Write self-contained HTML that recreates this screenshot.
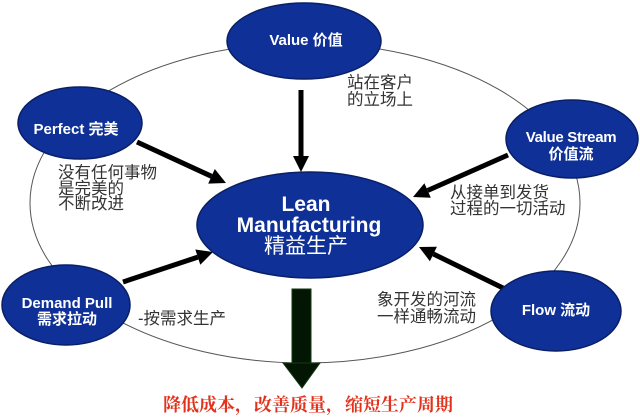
<!DOCTYPE html>
<html><head><meta charset="utf-8">
<style>
html,body{margin:0;padding:0;background:#fff;}
svg{display:block;}
.en{font-family:"Liberation Sans","Noto Sans CJK SC",sans-serif;font-weight:bold;fill:#fff;}
.g{font-family:"Liberation Sans","Noto Sans CJK SC",sans-serif;font-size:16.5px;fill:#333;}
.r{font-family:"Liberation Serif","Noto Serif CJK SC",serif;font-size:18px;font-weight:bold;fill:#e3321c;}
</style></head>
<body>
<svg width="640" height="419" viewBox="0 0 640 419" xmlns="http://www.w3.org/2000/svg">
<rect width="640" height="419" fill="#fff"/>
<!-- background ellipse -->
<ellipse cx="305" cy="203" rx="275" ry="160" fill="none" stroke="#555" stroke-width="1"/>

<!-- bottom arrow -->
<rect x="292" y="289" width="19" height="76" fill="#031603" stroke="#123a12" stroke-width="1"/>
<polygon points="283,363 320,363 302,388" fill="#031603" stroke="#123a12" stroke-width="1"/>

<!-- arrows -->
<g stroke="#000" stroke-width="5" fill="none">
<line x1="301" y1="90" x2="301" y2="158"/>
<line x1="137" y1="142" x2="211.5" y2="176.3"/>
<line x1="508" y1="155" x2="427.6" y2="190.5"/>
<line x1="123" y1="282" x2="197.8" y2="257.1"/>
<line x1="503" y1="288" x2="433.4" y2="254"/>
</g>
<g fill="#000">
<polygon points="293,156 309,156 301,172"/>
<polygon points="208.2,183.6 214.8,169.0 226,183"/>
<polygon points="424.4,183.2 430.8,197.8 413,197"/>
<polygon points="200.3,264.7 195.3,249.5 213,252"/>
<polygon points="436.9,246.8 429.9,261.2 419,247"/>
</g>

<!-- nodes -->
<g fill="#0f3096" stroke="#0a1f66" stroke-width="1.5">
<ellipse cx="304" cy="41" rx="77" ry="38"/>
<ellipse cx="80" cy="123" rx="62" ry="36"/>
<ellipse cx="572" cy="139" rx="66" ry="39"/>
<ellipse cx="66" cy="305" rx="64" ry="40"/>
<ellipse cx="556" cy="311" rx="65" ry="40"/>
<ellipse cx="310" cy="225" rx="113" ry="53"/>
</g>

<!-- node labels -->
<text class="en" x="306" y="45" font-size="15" text-anchor="middle">Value 价值</text>
<text class="en" x="76" y="134" font-size="15" text-anchor="middle">Perfect 完美</text>
<text class="en" x="571" y="142" font-size="15" text-anchor="middle" letter-spacing="-0.3">Value Stream</text>
<text class="en" x="571" y="159" font-size="15" text-anchor="middle">价值流</text>
<text class="en" x="67" y="308" font-size="15" text-anchor="middle">Demand Pull</text>
<text class="en" x="67" y="324" font-size="15" text-anchor="middle">需求拉动</text>
<text class="en" x="556" y="315" font-size="15" text-anchor="middle">Flow 流动</text>
<text class="en" x="306" y="211" font-size="21" text-anchor="middle">Lean</text>
<text class="en" x="309" y="232" font-size="21" text-anchor="middle">Manufacturing</text>
<text class="en" x="306" y="253" font-size="21" text-anchor="middle" style="font-weight:normal">精益生产</text>

<!-- annotations -->
<text class="g" x="347" y="88">站在客户</text>
<text class="g" x="347" y="105">的立场上</text>
<text class="g" x="58" y="178">没有任何事物</text>
<text class="g" x="58" y="194">是完美的</text>
<text class="g" x="58" y="209">不断改进</text>
<text class="g" x="450" y="198">从接单到发货</text>
<text class="g" x="450" y="214">过程的一切活动</text>
<text class="g" x="138" y="324">-按需求生产</text>
<text class="g" x="377" y="305">象开发的河流</text>
<text class="g" x="377" y="322">一样通畅流动</text>

<!-- bottom red text -->
<text class="r" x="163" y="411">降低成本，</text>
<text class="r" x="254" y="411">改善质量，</text>
<text class="r" x="345" y="411">缩短生产周期</text>
</svg>
</body></html>
